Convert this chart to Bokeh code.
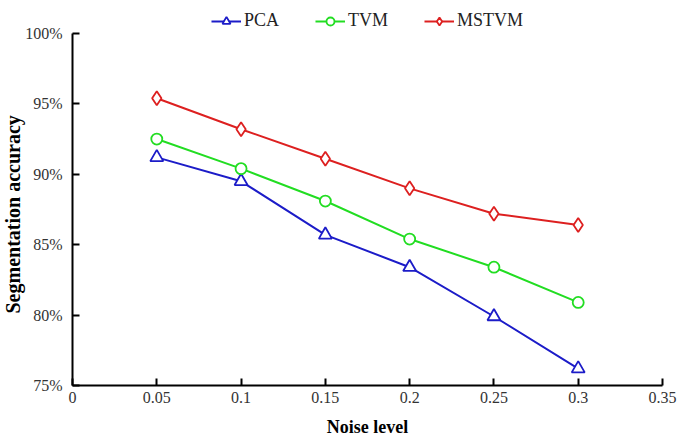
from bokeh.plotting import figure
from bokeh.models import Range1d, FixedTicker, Legend, LegendItem, Title
from bokeh.embed import file_html
from bokeh.resources import INLINE

noise = [0.05, 0.1, 0.15, 0.2, 0.25, 0.3]
pca = [91.2, 89.5, 85.7, 83.4, 79.9, 76.2]
tvm = [92.5, 90.4, 88.1, 85.4, 83.4, 80.9]
mstvm = [95.4, 93.2, 91.1, 89.0, 87.2, 86.4]

x_ticks = [0, 0.05, 0.1, 0.15, 0.2, 0.25, 0.3, 0.35]
x_labels = ["0", "0.05", "0.1", "0.15", "0.2", "0.25", "0.3", "0.35"]
y_ticks = [75, 80, 85, 90, 95, 100]
y_labels = ["75%", "80%", "85%", "90%", "95%", "100%"]

FONT = "Liberation Serif"

# axis spans 75..100; extra headroom above the axis holds the legend
Y_MIN, Y_AXIS_MAX, Y_VIEW_MAX = 75, 100, 102.34

p = figure(width=678, height=439, output_backend="svg", toolbar_location=None,
           x_range=Range1d(0, 0.35), y_range=Range1d(Y_MIN, Y_VIEW_MAX),
           min_border_left=72, min_border_right=16, min_border_top=0, min_border_bottom=54)
p.outline_line_color = None
p.xgrid.grid_line_color = None
p.ygrid.grid_line_color = None
p.background_fill_color = "white"
p.border_fill_color = "white"

series = [
    ("PCA", pca, "#1c1cc8", "triangle", 13),
    ("TVM", tvm, "#22dd22", "circle", 11),
    ("MSTVM", mstvm, "#dd2020", "diamond", 14),
]
items = []
for name, vals, color, marker, size in series:
    ln = p.line(noise, vals, line_color=color, line_width=2)
    sc = p.scatter(noise, vals, marker=marker, size=size, fill_color="white",
                   line_color=color, line_width=1.8)
    items.append(LegendItem(label=name, renderers=[ln, sc]))

legend = Legend(items=items, orientation="horizontal", location="top_center",
                border_line_color=None, background_fill_alpha=0,
                label_text_font=FONT, label_text_font_size="18px",
                label_text_color="#222222",
                glyph_width=30, glyph_height=20, label_standoff=3,
                spacing=36, padding=3, margin=10)
p.add_layout(legend, "center")

for ax in (p.xaxis[0], p.yaxis[0]):
    ax.axis_line_color = "black"
    ax.axis_line_width = 2
    ax.major_tick_line_color = "black"
    ax.major_tick_line_width = 2
    ax.major_tick_in = 7
    ax.major_tick_out = 0
    ax.minor_tick_line_color = None
    ax.major_label_text_font = FONT
    ax.major_label_text_font_size = "16px"
    ax.major_label_text_color = "#333333"
    ax.axis_label_text_font = FONT
    ax.axis_label_text_font_style = "bold"
    ax.axis_label_text_color = "black"

p.xaxis[0].ticker = FixedTicker(ticks=x_ticks)
p.xaxis[0].major_label_overrides = {t: l for t, l in zip(x_ticks, x_labels)}
p.xaxis[0].axis_label = "Noise level"
p.xaxis[0].axis_label_text_font_size = "18px"
p.xaxis[0].major_label_text_line_height = 1.0
p.xaxis[0].axis_label_text_line_height = 1.0
p.xaxis[0].major_label_standoff = 6
p.xaxis[0].axis_label_standoff = 11

p.yaxis[0].ticker = FixedTicker(ticks=y_ticks)
p.yaxis[0].bounds = (Y_MIN, Y_AXIS_MAX)
p.yaxis[0].major_label_overrides = {t: l for t, l in zip(y_ticks, y_labels)}
p.yaxis[0].major_label_standoff = 10

# y-axis title, centred on the 75..100 axis span rather than the whole frame
ytitle = Title(text="Segmentation accuracy", align="left", offset=72,
               text_font=FONT, text_font_style="bold", text_font_size="20px",
               text_color="black", standoff=-3, text_line_height=1.0)
p.add_layout(ytitle, "left")

open("out.html", "w").write(file_html(p, INLINE))
